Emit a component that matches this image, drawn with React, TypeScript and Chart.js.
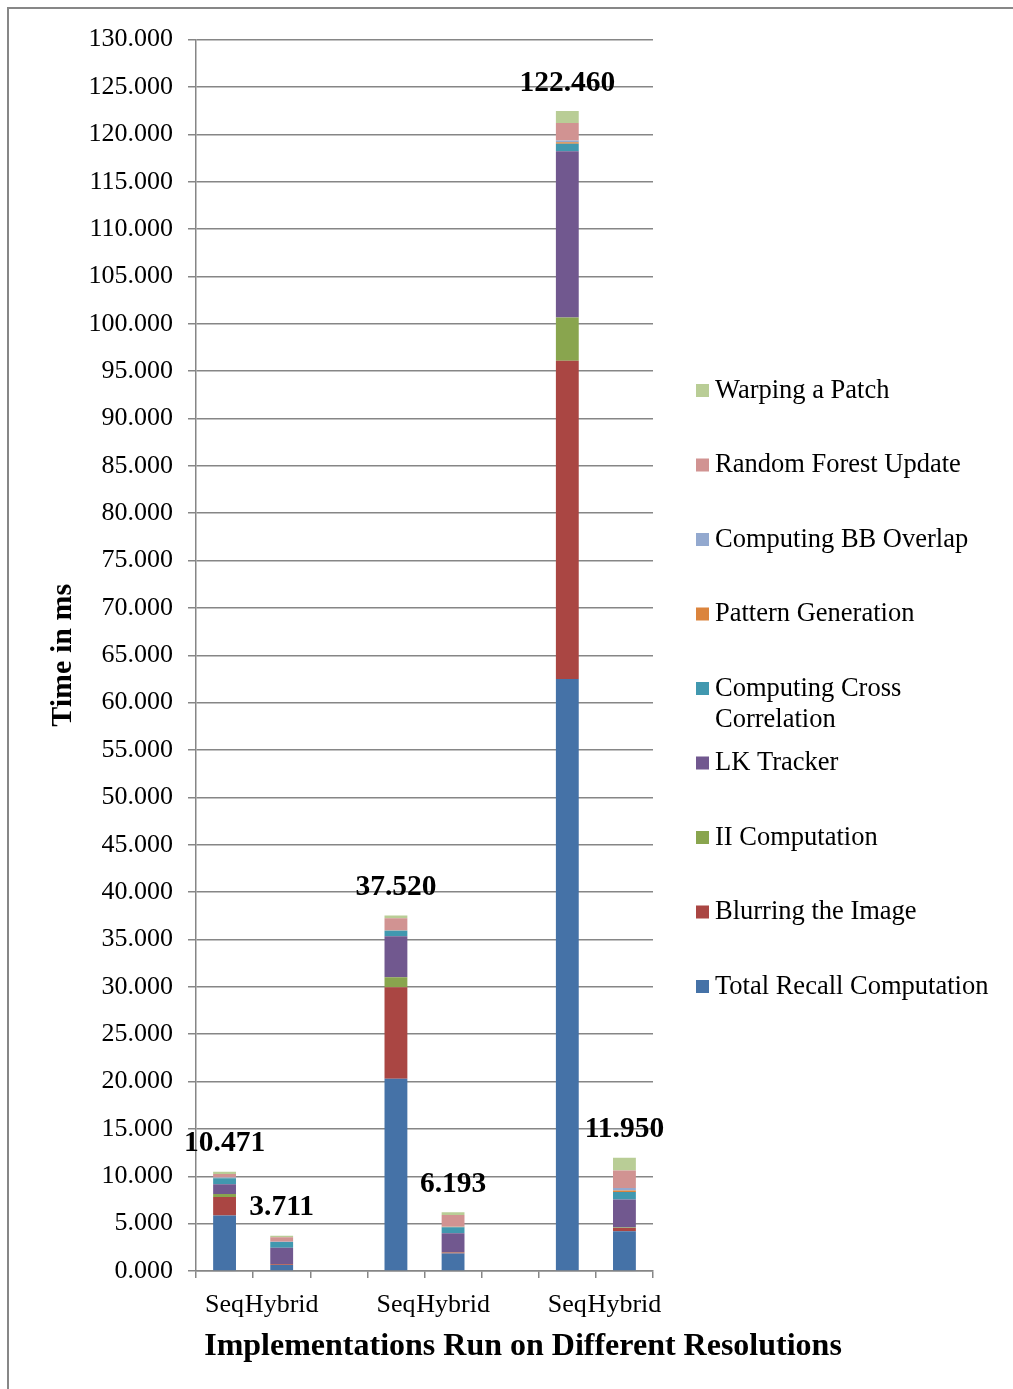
import { useEffect, useRef } from "react";
import { Chart, registerables } from "chart.js";

Chart.register(...registerables);

// Category slots: Seq / Hybrid pairs per resolution with an empty gap slot between groups
const categories = ["Seq", "Hybrid", "", "Seq", "Hybrid", "", "Seq", "Hybrid"];

// Time per pipeline stage in ms (null = empty gap slot)
const totalRecall = [5.85, 0.64, null, 20.3, 1.85, null, 62.5, 4.2];
const blurring = [1.95, 0.06, null, 9.65, 0.1, null, 33.6, 0.35];
const iiComputation = [0.32, 0.03, null, 1.05, 0.03, null, 4.55, 0.05];
const lkTracker = [1.05, 1.72, null, 4.33, 2.0, null, 17.55, 2.95];
const crossCorrelation = [0.62, 0.6, null, 0.6, 0.65, null, 0.8, 0.8];
const patternGeneration = [0.02, 0.02, null, 0.03, 0.03, null, 0.15, 0.15];
const bbOverlap = [0.05, 0.03, null, 0.05, 0.05, null, 0.2, 0.25];
const randomForest = [0.38, 0.45, null, 1.22, 1.2, null, 1.85, 1.85];
const warpingPatch = [0.231, 0.161, null, 0.29, 0.283, null, 1.26, 1.35];

const seriesNames = [
  "Total Recall Computation",
  "Blurring the Image",
  "II Computation",
  "LK Tracker",
  "Computing Cross Correlation",
  "Pattern Generation",
  "Computing BB Overlap",
  "Random Forest Update",
  "Warping a Patch",
];
const seriesValues = [
  totalRecall,
  blurring,
  iiComputation,
  lkTracker,
  crossCorrelation,
  patternGeneration,
  bbOverlap,
  randomForest,
  warpingPatch,
];
const seriesColors = [
  "#4572A7",
  "#AA4643",
  "#89A54E",
  "#71588F",
  "#4198AF",
  "#DB843D",
  "#93A9CF",
  "#D19392",
  "#B9CD96",
];

const yTitle = "Time in ms";
const xTitle = "Implementations Run on Different Resolutions";

const FONT = "'Liberation Serif', 'Times New Roman', serif";
const GRID = "#868686";

const totalsPlugin = {
  id: "stackTotals",
  afterDatasetsDraw(chart: any) {
    const { ctx, scales } = chart;
    ctx.save();
    ctx.font = `bold 29.5px ${FONT}`;
    ctx.fillStyle = "#000";
    ctx.textAlign = "center";
    ctx.textBaseline = "middle";
    categories.forEach((_, i) => {
      let sum = 0;
      let has = false;
      seriesValues.forEach((s) => {
        const v = s[i];
        if (v !== null && v !== undefined) {
          sum += v;
          has = true;
        }
      });
      if (!has) return;
      const x = scales.x.getPixelForValue(i);
      const y = scales.y.getPixelForValue(sum);
      ctx.fillText(sum.toFixed(3), x, y - 28);
    });
    ctx.restore();
  },
};

const sideLegendPlugin = {
  id: "sideLegend",
  afterDraw(chart: any) {
    const { ctx } = chart;
    const boxX = 687;
    const textX = 706;
    const maxWidth = 285;
    const firstY = 382;
    const step = 74.5;
    const lineGap = 31;
    ctx.save();
    ctx.font = `26.5px ${FONT}`;
    ctx.textBaseline = "middle";
    ctx.textAlign = "left";
    const ds = chart.data.datasets.slice().reverse();
    ds.forEach((d: any, i: number) => {
      const cy = firstY + i * step;
      ctx.fillStyle = d.backgroundColor;
      ctx.fillRect(boxX, cy - 7, 13, 13);
      // wrap long labels onto a second line
      const words = String(d.label).split(" ");
      const lines: string[] = [];
      let cur = "";
      words.forEach((w) => {
        const trial = cur ? cur + " " + w : w;
        if (ctx.measureText(trial).width > maxWidth && cur) {
          lines.push(cur);
          cur = w;
        } else {
          cur = trial;
        }
      });
      if (cur) lines.push(cur);
      ctx.fillStyle = "#000";
      lines.forEach((ln, k) => ctx.fillText(ln, textX, cy + k * lineGap));
    });
    ctx.restore();
  },
};

const xTitlePlugin = {
  id: "xTitle",
  afterDraw(chart: any) {
    const { ctx } = chart;
    ctx.save();
    ctx.font = `bold 32px ${FONT}`;
    ctx.fillStyle = "#000";
    ctx.textAlign = "center";
    ctx.textBaseline = "middle";
    ctx.fillText(xTitle, 514, 1338);
    ctx.restore();
  },
};

export default function App() {
  const canvasRef = useRef<HTMLCanvasElement | null>(null);

  useEffect(() => {
    if (!canvasRef.current) return;
    Chart.defaults.font.family = FONT;
    Chart.defaults.color = "#000";
    const chart = new Chart(canvasRef.current, {
      type: "bar",
      data: {
        labels: categories,
        datasets: seriesNames.map((name, i) => ({
          label: name,
          data: seriesValues[i],
          backgroundColor: seriesColors[i],
          borderWidth: 0,
          barPercentage: 1,
          categoryPercentage: 0.4,
        })),
      },
      options: {
        responsive: false,
        animation: false,
        devicePixelRatio: 1,
        layout: { padding: { top: 28, right: 360, bottom: 0, left: 0 } },
        plugins: {
          legend: { display: false },
          tooltip: { enabled: false },
        },
        scales: {
          x: {
            stacked: true,
            grid: {
              drawOnChartArea: false,
              drawTicks: true,
              tickLength: 7,
              color: GRID,
              lineWidth: 1.5,
            },
            border: { color: GRID, width: 1.5 },
            ticks: {
              font: { size: 26 },
              padding: 12,
              maxRotation: 0,
              autoSkip: false,
              color: "#000",
            },
            afterFit: (s: any) => {
              s.height = 118;
            },
          },
          y: {
            stacked: true,
            min: 0,
            max: 130,
            ticks: {
              stepSize: 5,
              callback: (v: any) => Number(v).toFixed(3),
              font: { size: 26 },
              padding: 15,
              color: "#000",
            },
            grid: { color: GRID, lineWidth: 1.5, tickLength: 8 },
            border: { color: GRID, width: 1.5 },
            title: {
              display: true,
              text: yTitle,
              font: { size: 30, weight: "bold" },
              padding: { top: 36, bottom: 0 },
              color: "#000",
            },
            afterFit: (s: any) => {
              s.width = 187;
            },
          },
        },
      },
      plugins: [totalsPlugin, sideLegendPlugin, xTitlePlugin],
    });
    return () => chart.destroy();
  }, []);

  return (
    <div
      style={{
        position: "fixed",
        left: 7,
        top: 7,
        width: 1004,
        height: 1380,
        borderTop: "2px solid #878787",
        borderLeft: "2px solid #878787",
        background: "#fff",
      }}
    >
      <canvas ref={canvasRef} width={1004} height={1380} style={{ display: "block" }} />
    </div>
  );
}
